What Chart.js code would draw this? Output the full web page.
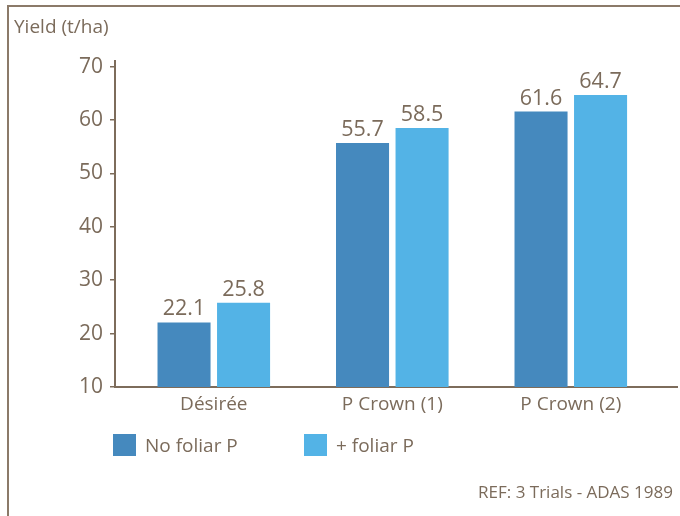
<!DOCTYPE html>
<html>
<head>
<meta charset="utf-8">
<script src="https://cdn.jsdelivr.net/npm/chart.js@4/dist/chart.umd.min.js"></script>
<style>
  html, body { margin: 0; padding: 0; background: #ffffff; }
  #wrap { position: relative; width: 680px; height: 516px; overflow: hidden; background: #fff; }
  #c { position: absolute; left: 0; top: 0; }
  #frame { position: absolute; left: 7px; top: 5px; width: 700px; height: 540px;
           border-top: 2px solid #8b7a69; border-left: 2px solid #8b7a69; pointer-events: none; }
  .lg { position: absolute; top: 434px; height: 22px; display: flex; align-items: center;
        font-family: "Open Sans", sans-serif; font-size: 19px; color: #7b6b5b; white-space: nowrap; }
  .lg span.box { display: inline-block; width: 23px; height: 22px; margin-right: 9px; }
  #ref { position: absolute; right: 7px; top: 482px; line-height: 20px;
         font-family: "Open Sans", sans-serif; font-size: 17px; color: #7b6b5b; white-space: nowrap; }
</style>
</head>
<body>
<div id="wrap">
  <canvas id="c" width="680" height="516"></canvas>
  <div id="frame"></div>
  <div id="legend"></div>
  <div id="ref"></div>
</div>
<script>
// ---- data ----
const categories = ["Désirée", "P Crown (1)", "P Crown (2)"];
const seriesNames = ["No foliar P", "+ foliar P"];
const noFoliarP = [22.1, 55.7, 61.6];
const plusFoliarP = [25.8, 58.5, 64.7];
const yTicks = [10, 20, 30, 40, 50, 60, 70];
const yAxisTitle = "Yield (t/ha)";
const refNote = "REF: 3 Trials - ADAS 1989";

const TEXT = "#7b6b5b";
const AXIS = "#7d6c5b";
const DARK = "#4589be";
const LIGHT = "#53b3e6";
const FONT = '"Open Sans", sans-serif';

function toPoints(arr) { return arr.map((v, i) => ({ x: i, y: v })); }

// HTML legend + reference note
const legendColors = [DARK, LIGHT];
const legendLeft = [113, 304];
const legendEl = document.getElementById('legend');
seriesNames.forEach((name, i) => {
  const d = document.createElement('div');
  d.className = 'lg';
  d.style.left = legendLeft[i] + 'px';
  const b = document.createElement('span');
  b.className = 'box';
  b.style.background = legendColors[i];
  d.appendChild(b);
  d.appendChild(document.createTextNode(name));
  legendEl.appendChild(d);
});
document.getElementById('ref').textContent = refNote;

const valueLabels = {
  id: 'valueLabels',
  afterDatasetsDraw(chart) {
    const ctx = chart.ctx;
    ctx.save();
    ctx.fillStyle = TEXT;
    ctx.font = '21.5px ' + FONT;
    ctx.textAlign = 'center';
    ctx.textBaseline = 'alphabetic';
    chart.data.datasets.forEach((ds, di) => {
      const meta = chart.getDatasetMeta(di);
      meta.data.forEach((el, i) => {
        ctx.fillText(ds.data[i].y.toFixed(1), el.x, el.y - 7);
      });
    });
    ctx.restore();
  }
};

new Chart(document.getElementById('c'), {
  type: 'bar',
  data: {
    datasets: [
      { label: seriesNames[0], data: toPoints(noFoliarP), backgroundColor: DARK, borderWidth: 0 },
      { label: seriesNames[1], data: toPoints(plusFoliarP), backgroundColor: LIGHT, borderWidth: 0 }
    ]
  },
  options: {
    responsive: false,
    animation: false,
    events: [],
    categoryPercentage: 0.667,
    barPercentage: 0.891,
    layout: { padding: { left: 14, right: 3, top: 16.2, bottom: 12 } },
    plugins: {
      legend: { display: false },
      tooltip: { enabled: false },
      title: {
        display: true, text: yAxisTitle, align: 'start', color: TEXT,
        font: { family: FONT, size: 19, weight: 'normal', lineHeight: 1.2 },
        padding: { top: 0, bottom: 22 }
      }
    },
    scales: {
      x: {
        type: 'linear',
        offset: false,
        min: -0.5535,
        max: 2.595,
        grid: { display: false, drawTicks: false },
        border: { display: true, color: AXIS, width: 2 },
        ticks: {
          stepSize: 1, includeBounds: false, autoSkip: false, maxRotation: 0,
          color: TEXT, font: { family: FONT, size: 19 }, padding: 6.5,
          callback: (v) => (Number.isInteger(v) && categories[v] !== undefined) ? categories[v] : ''
        },
        afterFit: (s) => { s.height = 117; }
      },
      y: {
        min: yTicks[0],
        max: 71.07,
        grid: { display: true, drawOnChartArea: false, drawTicks: true, tickLength: 5, color: AXIS, lineWidth: 1.5 },
        border: { display: true, color: AXIS, width: 2 },
        ticks: {
          stepSize: 10, includeBounds: false, color: TEXT, padding: 7,
          font: { family: FONT, size: 21 },
          callback: (v) => yTicks.includes(v) ? String(v) : ''
        },
        afterFit: (s) => { s.width = 101; }
      }
    }
  },
  plugins: [valueLabels]
});
</script>
</body>
</html>
